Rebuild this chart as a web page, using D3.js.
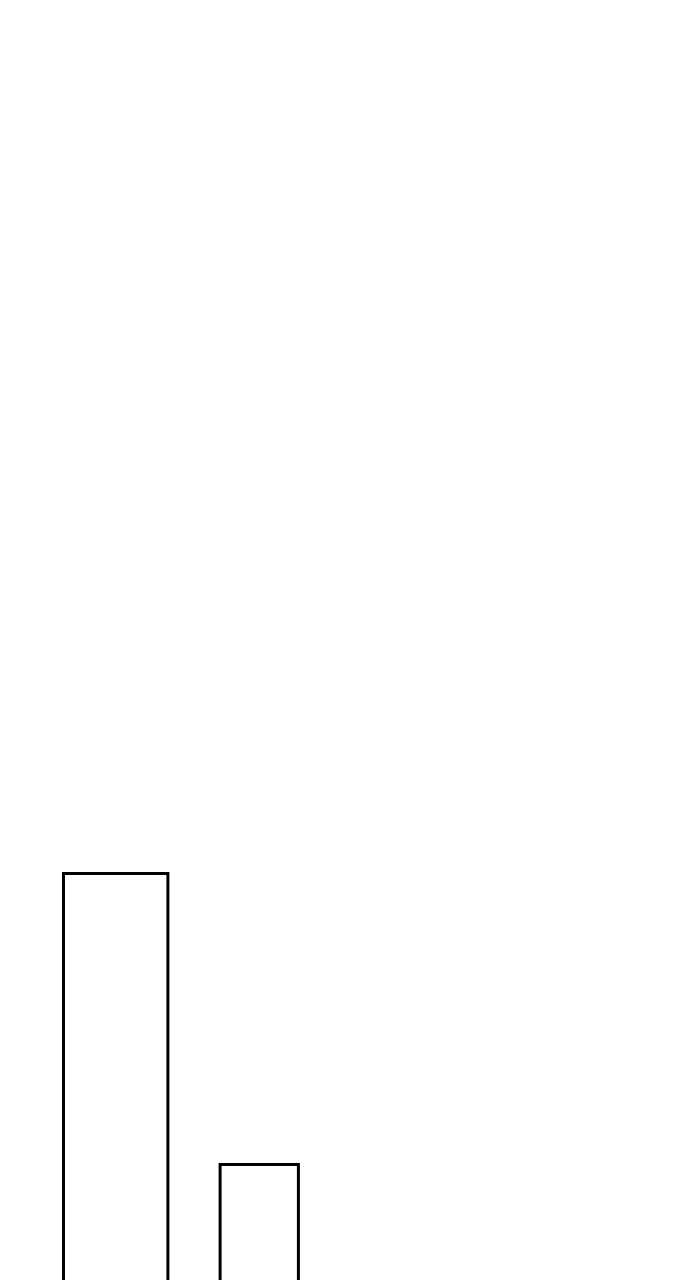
<!DOCTYPE html>
<html>
<head>
<meta charset="utf-8">
<script src="https://cdn.jsdelivr.net/npm/d3@7"></script>
<style>
  html, body { margin: 0; padding: 0; background: #fff; overflow: hidden; }
  svg { display: block; }
</style>
</head>
<body>
<svg id="chart" width="690" height="1280"></svg>
<script>
// bar data (variable width bars)
const categories = ['A', 'B'];
const values = [100, 30];
const weights = [4, 3];
const gapUnits = 2;

const width = 690, height = 1280;
const svg = d3.select('#chart');

// cumulative start of each bar in width units
const starts = [];
let acc = 0;
weights.forEach((w, i) => {
  starts.push(acc);
  acc += w + gapUnits;
});

const unit = 26.1;
const x = d3.scaleLinear().domain([0, 1]).range([63.5, 63.5 + unit]);
const y = d3.scaleLinear().domain([0, 100]).range([1289.2, 873.5]);

svg.selectAll('rect.bar')
  .data(categories)
  .join('rect')
  .attr('class', 'bar')
  .attr('x', (d, i) => x(starts[i]))
  .attr('width', (d, i) => x(starts[i] + weights[i]) - x(starts[i]))
  .attr('y', (d, i) => y(values[i]))
  .attr('height', (d, i) => y(0) - y(values[i]))
  .attr('fill', '#fff')
  .attr('stroke', '#000')
  .attr('stroke-width', 3);
</script>
</body>
</html>
